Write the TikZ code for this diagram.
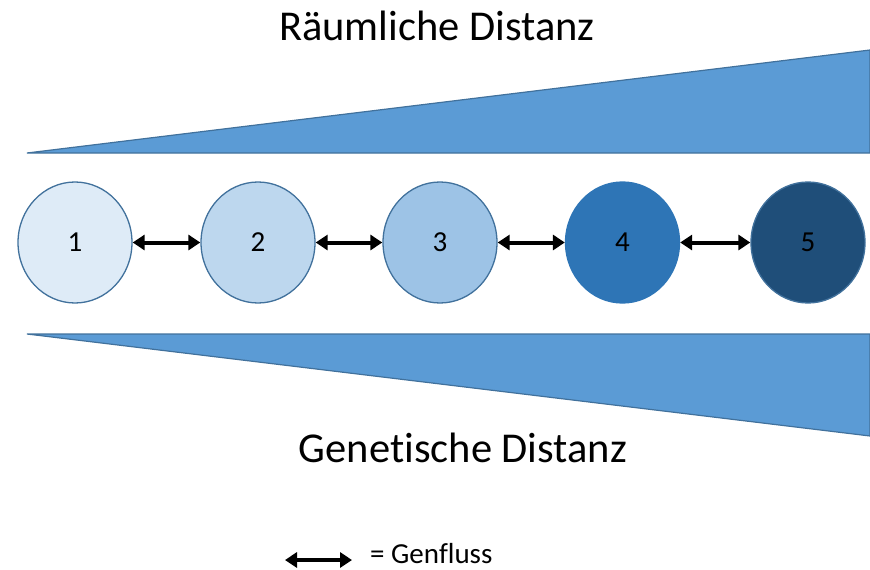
\documentclass[tikz,border=0pt]{standalone}
\usepackage{fontspec}
\setmainfont{Carlito}[Ligatures=NoCommon]
\usetikzlibrary{arrows.meta,shapes.geometric}
\definecolor{wedgefill}{HTML}{5B9BD5}
\definecolor{edgeblue}{HTML}{41719C}
\definecolor{popA}{HTML}{DEEBF7}
\definecolor{popB}{HTML}{BDD7EE}
\definecolor{popC}{HTML}{9DC3E6}
\definecolor{popD}{HTML}{2E75B6}
\definecolor{popE}{HTML}{1F4E79}
\tikzset{
  wedge/.style={fill=wedgefill, draw=edgeblue, line width=1.2pt, line join=miter},
  pop/.style={ellipse, minimum width=114pt, minimum height=121pt, inner sep=0pt,
    draw=edgeblue, line width=1.3pt, font=\fontsize{29}{34}\selectfont},
  flow/.style={line width=4pt, {Triangle[length=12pt,width=15pt]}-{Triangle[length=12pt,width=15pt]}},
  heading/.style={anchor=base, font=\fontsize{42.5}{50}\selectfont, inner sep=0pt}
}
\begin{document}
\begin{tikzpicture}[x=1pt, y=-1pt]
  \useasboundingbox (0,0) rectangle (870,570);
  % wedges: spatial distance grows, genetic distance grows
  \draw[wedge] (27,153) -- (870,50) -- (870,153) -- cycle;
  \draw[wedge] (27,334) -- (870,334) -- (870,436) -- cycle;
  \node[heading] (raum) at (437,40) {Räumliche Distanz};
  \node[heading] (gen) at (463,462) {Genetische Distanz};
  % populations
  \node[pop, fill=popA] (p1) at (75,242.5) {1};
  \node[pop, fill=popB] (p2) at (258,242.5) {2};
  \node[pop, fill=popC] (p3) at (440,242.5) {3};
  \node[pop, fill=popD, draw=popD] (p4) at (622.5,242.5) {4};
  \node[pop, fill=popE] (p5) at (808,242.5) {5};
  % gene flow between neighbours
  \draw[flow] (p1) -- (p2);
  \draw[flow] (p2) -- (p3);
  \draw[flow] (p3) -- (p4);
  \draw[flow] (p4) -- (p5);
  % legend
  \coordinate (la) at (285,560);
  \coordinate (lb) at (352,560);
  \draw[flow] (la) -- (lb);
  \node[anchor=base west, inner sep=0pt, font=\fontsize{29}{34}\selectfont] (leg) at (370,563) {= Genfluss};
\end{tikzpicture}
\end{document}
